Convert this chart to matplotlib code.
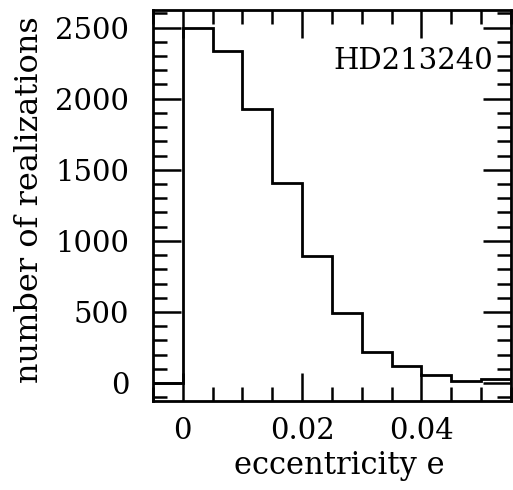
import numpy as np
import matplotlib
matplotlib.use("Agg")
import matplotlib.pyplot as plt
from matplotlib.ticker import MultipleLocator

# histogram of eccentricity realizations
bin_edges = [-0.005, 0.0, 0.005, 0.01, 0.015, 0.02, 0.025, 0.03, 0.035, 0.04, 0.045, 0.05, 0.055]
counts = [0, 2500, 2333, 1927, 1410, 894, 495, 220, 122, 56, 16, 26]

plt.rcParams['font.family'] = 'DejaVu Serif'

fig = plt.figure(figsize=(5.13, 4.90), dpi=100)
ax = fig.add_axes([0.298, 0.182, 0.698, 0.798])

ax.stairs(counts, bin_edges, color='black', lw=2)

ax.set_xlim(-0.005, 0.055)
ax.set_ylim(-125, 2625)

ax.xaxis.set_major_locator(MultipleLocator(0.02))
ax.xaxis.set_minor_locator(MultipleLocator(0.005))
ax.yaxis.set_major_locator(MultipleLocator(500))
ax.yaxis.set_minor_locator(MultipleLocator(100))
ax.set_xticks([0, 0.02, 0.04])
ax.set_xticklabels(['0', '0.02', '0.04'])

ax.tick_params(which='both', direction='in', top=True, right=True, width=1.8, labelsize=21)
ax.tick_params(which='major', length=20)
ax.tick_params(axis='x', which='major', pad=12)
ax.tick_params(axis='y', which='major', pad=17)
ax.tick_params(which='minor', length=10)
for s in ax.spines.values():
    s.set_linewidth(2)

ax.set_xlabel('eccentricity e', fontsize=22)
ax.set_ylabel('number of realizations', fontsize=23)
ax.xaxis.set_label_coords(0.52, -0.125)
ax.yaxis.set_label_coords(-0.30, 0.515)

ax.text(0.95, 0.87, 'HD213240', transform=ax.transAxes, ha='right', va='center', fontsize=21)

fig.savefig('out.png', dpi=100)
